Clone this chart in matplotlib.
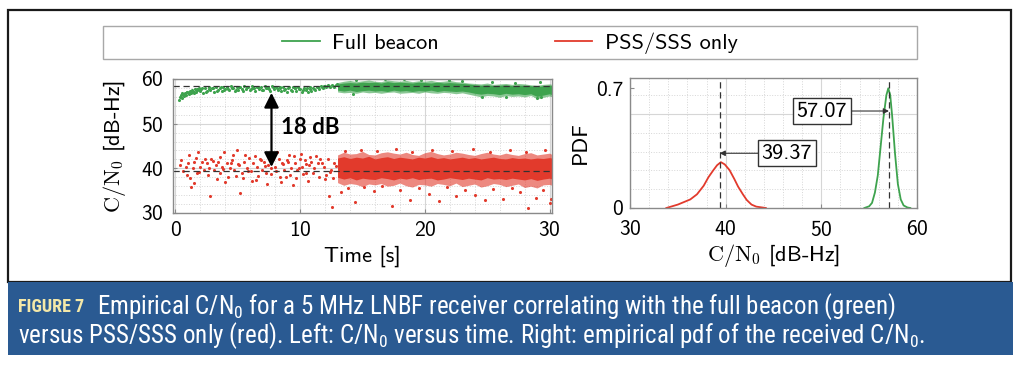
import matplotlib
matplotlib.use("Agg")
import matplotlib.pyplot as plt
from matplotlib.patches import Rectangle
from matplotlib.ticker import MultipleLocator

plt.rcParams['font.family'] = 'cmss10'
plt.rcParams['mathtext.fontset'] = 'cm'
plt.rcParams['axes.unicode_minus'] = False
plt.rcParams['axes.formatter.use_mathtext'] = True

GREEN = '#3ea34e'
RED = '#e23a2c'

# ---- left panel: C/N0 vs time, sparse part (before ~13 s) ----
red_sparse_t = [0.47, 0.64, 0.81, 1.0, 1.2, 1.26, 1.38, 1.5, 1.63, 1.75, 1.8, 2.0, 2.12, 2.25, 2.5,
                2.7, 2.79, 2.86, 3.11, 3.23, 3.43, 3.6, 3.73, 3.93, 4.1, 4.22, 4.35, 4.52, 4.72, 4.96,
                5.09, 5.2, 5.33, 5.5, 5.7, 5.9, 6.07, 6.25, 6.44, 6.57, 6.74, 6.94, 7.06, 7.23, 7.43,
                7.63, 7.8, 7.98, 8.17, 8.37, 8.54, 8.72, 8.91, 9.1, 9.28, 9.4, 9.6, 9.78, 9.95, 10.15,
                10.35, 10.5, 10.7, 10.9, 11.1, 11.4, 11.6, 11.9, 12.1, 12.3, 12.5, 12.57, 12.74,
                0.35, 0.9, 1.1, 1.45, 1.9, 2.35, 2.6, 3.0, 3.3, 3.55, 3.85, 4.0, 4.45, 4.65, 4.85,
                5.0, 5.4, 5.6, 5.8, 6.15, 6.35, 6.65, 6.85, 7.15, 7.35, 7.55, 7.7, 8.05, 8.3, 8.45,
                8.65, 8.85, 9.0, 9.2, 9.5, 9.7, 9.9, 10.05, 10.25, 10.45, 10.6, 10.8, 11.0, 11.25,
                11.5, 11.75, 12.0, 12.2, 12.4, 12.65, 12.85]
red_sparse_v = [41.9, 39.3, 40.4, 41.1, 37.8, 35.9, 40.0, 41.5, 42.4, 38.9, 43.7, 40.4, 41.5, 39.6, 41.1,
                40.0, 33.9, 42.2, 39.6, 40.7, 41.5, 38.9, 40.4, 43.7, 41.1, 38.1, 40.0, 41.9, 39.6, 44.1,
                40.7, 34.4, 38.9, 41.5, 40.0, 42.4, 39.3, 41.1, 37.4, 40.4, 42.2, 39.6, 41.5, 38.9, 40.7,
                40.0, 42.2, 40.4, 43.7, 38.1, 41.1, 39.6, 41.9, 43.0, 40.0, 36.3, 41.1, 39.6, 42.2, 40.4,
                41.9, 38.9, 40.7, 41.5, 40.0, 41.1, 42.2, 40.4, 38.5, 33.9, 39.6, 31.3, 41.1,
                40.8, 38.4, 42.9, 36.8, 39.2, 42.0, 38.6, 41.7, 37.6, 42.6, 39.9, 37.0, 41.2, 43.0, 38.3,
                40.9, 37.9, 42.9, 39.4, 37.1, 42.7, 38.2, 41.8, 40.5, 36.4, 42.4, 38.7, 39.3, 42.0, 36.9,
                40.9, 38.0, 41.4, 38.4, 42.7, 37.8, 40.0, 43.2, 38.7, 41.0, 37.2, 42.5, 39.0, 42.8,
                38.1, 41.3, 37.6, 42.2, 39.2, 37.9, 40.6]

green_sparse_t = [0.30, 0.38, 0.45, 0.52, 0.60, 0.68, 0.75, 0.85, 0.95, 1.05, 1.15, 1.25, 1.35, 1.45,
                  1.55, 1.65, 1.75, 1.85, 1.95, 2.05, 2.2, 2.35, 2.5, 2.65, 2.8, 2.95, 3.1, 3.25, 3.4,
                  3.55, 3.7, 3.85, 4.0, 4.15, 4.3, 4.45, 4.6, 4.75, 4.9, 5.05, 5.2, 5.35, 5.5, 5.65,
                  5.8, 5.95, 6.1, 6.25, 6.4, 6.55, 6.7, 6.85, 7.0, 7.15, 7.3, 7.45, 7.6, 7.75, 7.9,
                  8.05, 8.2, 8.35, 8.5, 8.65, 8.8, 8.95, 9.1, 9.25, 9.4, 9.55, 9.7, 9.85, 10.0, 10.15,
                  10.3, 10.45, 10.6, 10.75, 10.9, 11.05, 11.2, 11.35, 11.5, 11.65, 11.8, 11.95, 12.1,
                  12.25, 12.4, 12.55, 12.7, 12.85,
                  0.42, 0.56, 0.72, 0.9, 1.1, 1.3, 1.5, 1.7, 1.9, 2.12, 2.42, 2.72, 3.02, 3.32, 3.62,
                  3.92, 4.22, 4.52, 4.82, 5.12, 5.42, 5.72, 6.02, 6.32, 6.62, 6.92, 7.22, 7.52, 7.82,
                  8.12, 8.42, 8.72, 9.02, 9.32, 9.62, 9.92, 10.22, 10.52, 10.82, 11.12, 11.42, 11.72,
                  12.02, 12.32, 12.62, 12.92]
green_sparse_v = [55.3, 55.9, 56.4, 55.7, 56.7, 56.2, 56.9, 56.5, 57.2, 56.8, 57.4, 56.9, 57.6, 57.1,
                  57.8, 57.2, 57.5, 58.0, 57.3, 57.7, 56.8, 57.9, 57.4, 58.1, 57.5, 57.9, 57.2, 58.2, 57.6,
                  58.0, 57.4, 58.3, 57.7, 58.1, 57.5, 58.4, 57.9, 57.3, 58.2, 57.6, 58.3, 57.8, 58.5, 57.7,
                  58.1, 57.5, 58.4, 57.9, 57.4, 58.3, 57.7, 58.2, 57.6, 58.4, 57.9, 58.1, 57.3, 58.5, 57.8,
                  58.2, 57.5, 58.0, 57.4, 58.3, 57.8, 57.2, 58.1, 57.6, 58.3, 57.9, 57.4, 58.2, 57.7, 57.2,
                  58.0, 57.5, 57.0, 57.8, 57.3, 57.9, 57.5, 58.2, 57.8, 58.4, 58.0, 58.5, 58.1,
                  58.6, 58.2, 58.7, 58.3, 58.6,
                  56.0, 56.9, 56.4, 57.0, 56.6, 57.3, 56.9, 57.7, 57.6, 58.0, 57.1, 57.8, 57.9, 57.3, 58.2,
                  57.5, 57.8, 58.0, 57.6, 58.1, 57.4, 58.3, 57.8, 58.0, 58.2, 57.5, 58.0, 57.7, 58.2,
                  57.9, 58.3, 57.6, 57.9, 57.3, 58.0, 57.8, 57.6, 57.9, 58.1, 57.7, 58.1, 58.3,
                  58.4, 58.4, 58.5, 58.8]

# ---- dense part (after ~13 s), read as envelopes of the point cloud ----
t_band = [13.0, 13.5, 14.0, 14.5, 15.0, 15.5, 16.0, 16.5, 17.0, 17.5, 18.0, 18.5, 19.0, 19.5, 20.0,
          20.5, 21.0, 21.5, 22.0, 22.5, 23.0, 23.5, 24.0, 24.5, 25.0, 25.5, 26.0, 26.5, 27.0, 27.5,
          28.0, 28.5, 29.0, 29.5, 30.0, 30.2]
red_lo = [38.0, 37.6, 37.9, 37.4, 37.8, 37.6, 37.5, 37.9, 37.7, 37.4, 37.8, 37.6, 37.9, 37.5, 37.7, 37.8,
          37.4, 37.6, 37.9, 37.7, 37.5, 37.8, 37.6, 37.4, 37.9, 37.6, 37.7, 37.5, 37.8, 37.6, 37.4, 37.7,
          37.3, 37.6, 37.8, 37.6]
red_hi = [42.3, 42.6, 42.2, 42.5, 42.3, 42.7, 42.1, 42.4, 42.6, 42.2, 42.5, 42.3, 42.1, 42.5, 42.3, 42.6,
          42.2, 42.4, 42.1, 42.3, 42.5, 42.2, 42.4, 42.1, 42.3, 42.5, 42.2, 42.1, 42.4, 42.2, 42.3, 42.1,
          42.3, 42.2, 42.4, 42.3]
red_halo_lo = [36.8, 36.2, 36.6, 36.4, 35.9, 36.5, 36.3, 36.6, 36.0, 36.2, 36.7, 36.1, 35.8, 36.4, 36.3,
               36.0, 36.6, 36.4, 36.1, 36.7, 35.9, 36.2, 36.5, 35.8, 36.1, 36.6, 36.4, 35.9, 36.2, 36.5,
               35.7, 36.0, 35.6, 36.3, 36.4, 36.2]
red_halo_hi = [43.0, 43.6, 43.2, 43.3, 43.8, 43.1, 43.0, 43.5, 43.7, 43.4, 43.2, 43.6, 43.1, 42.9, 43.5,
               43.8, 43.3, 43.0, 43.2, 43.6, 43.4, 43.1, 42.9, 43.3, 43.6, 43.2, 43.0, 43.4, 43.1, 42.9,
               43.3, 43.5, 43.0, 43.2, 43.4, 43.1]
green_lo = [57.5, 57.3, 57.5, 57.2, 57.4, 57.5, 57.3, 57.4, 57.2, 57.5, 57.3, 57.4, 57.2, 57.4, 57.3, 57.5,
            57.2, 57.4, 57.3, 57.2, 57.3, 57.1, 56.8, 56.6, 56.8, 56.7, 56.5, 56.8, 56.6, 56.7, 56.5, 56.7,
            56.1, 56.4, 56.7, 56.5]
green_hi = [58.9, 59.1, 59.2, 59.1, 59.3, 59.2, 59.3, 59.1, 59.4, 59.2, 59.3, 59.2, 59.1, 59.3, 59.2, 59.1,
            59.3, 59.1, 59.2, 59.1, 59.0, 58.9, 58.7, 58.6, 58.7, 58.5, 58.6, 58.7, 58.5, 58.6, 58.6, 58.5,
            58.3, 58.5, 58.6, 58.5]
green_halo_lo = [57.1, 56.9, 57.0, 56.8, 57.1, 56.9, 57.0, 56.8, 57.0, 57.1, 56.8, 56.9, 57.0, 56.8, 57.1,
                 56.9, 56.8, 57.0, 56.9, 56.7, 56.9, 56.6, 56.3, 56.0, 56.3, 56.2, 55.9, 56.3, 56.1, 56.2,
                 56.0, 56.3, 55.6, 55.9, 56.2, 56.0]
green_halo_hi = [59.2, 59.5, 59.7, 59.4, 59.6, 59.8, 59.5, 59.4, 59.8, 59.6, 59.5, 59.7, 59.4, 59.6, 59.5,
                 59.7, 59.4, 59.5, 59.7, 59.4, 59.3, 59.1, 59.0, 58.9, 59.1, 58.8, 58.9, 59.0, 58.8, 59.0,
                 58.9, 58.7, 58.6, 58.8, 58.9, 58.8]

red_out_t = [13.3, 13.8, 14.4, 15.1, 15.9, 16.6, 17.4, 18.0, 18.8, 19.5, 20.3, 21.1, 21.8, 22.5, 23.2,
             24.0, 24.8, 25.5, 26.3, 27.0, 27.6, 28.3, 28.9, 29.5, 30.0, 30.1,
             13.6, 14.9, 16.2, 17.7, 19.0, 20.6, 22.2, 23.9, 25.2, 26.8, 28.1, 29.6]
red_out_v = [34.6, 35.5, 32.4, 35.8, 34.9, 36.0, 31.6, 35.2, 33.0, 35.6, 34.3, 32.6, 35.9, 33.8, 35.1,
             34.0, 32.8, 35.4, 33.2, 35.7, 34.6, 31.2, 33.4, 35.2, 32.3, 33.1,
             43.8, 44.2, 43.9, 44.4, 43.7, 44.1, 43.8, 44.3, 43.6, 44.0, 43.7, 44.2]
green_out_t = [14.5, 16.8, 18.3, 19.7, 21.9, 23.0, 25.4, 27.2, 29.2, 29.0, 29.3, 14.2, 24.6, 26.5]
green_out_v = [59.8, 59.9, 60.0, 59.7, 59.8, 59.6, 59.4, 59.2, 59.3, 55.8, 56.0, 56.6, 55.9, 56.0]

green_ref = 58.4
red_ref = 39.5

# ---- right panel: empirical pdf ----
red_pdf_x = [33.8, 35.0, 36.3, 37.0, 37.7, 38.2, 38.7, 39.1, 39.5, 39.9, 40.4, 40.9, 41.3, 41.8, 42.2,
             42.7, 43.2, 44.2]
red_pdf_y = [0.0, 0.02, 0.05, 0.08, 0.13, 0.18, 0.22, 0.25, 0.268, 0.255, 0.222, 0.17, 0.125, 0.08,
             0.047, 0.02, 0.008, 0.0]
green_pdf_x = [54.5, 55.0, 55.3, 55.6, 55.9, 56.2, 56.5, 56.8, 57.0, 57.2, 57.4, 57.7, 58.0, 58.3,
               58.6, 59.0, 59.3]
green_pdf_y = [0.0, 0.01, 0.03, 0.09, 0.19, 0.36, 0.53, 0.66, 0.70, 0.66, 0.54, 0.32, 0.14, 0.05,
               0.015, 0.003, 0.0]
green_mean = 57.07
red_mean = 39.37

fig = plt.figure(figsize=(10.24, 3.68), dpi=100)
W, H = 1024, 368


def fx(px):
    return px / W


def fy(py):
    return 1 - py / H


# outer frame and caption bar
fig.add_artist(Rectangle((fx(8), fy(282)), fx(1011) - fx(8), fy(10) - fy(282),
                         transform=fig.transFigure, fill=False, ec='#1a1a1a', lw=1.6))
fig.add_artist(Rectangle((fx(8), fy(355)), fx(1013) - fx(8), fy(282) - fy(355),
                         transform=fig.transFigure, fc='#2a5a92', ec='none'))
# legend frame
fig.add_artist(Rectangle((fx(103), fy(59)), fx(917) - fx(103), fy(26) - fy(59),
                         transform=fig.transFigure, fill=False, ec='#a8a8a8', lw=1.0))


def style(ax):
    for s in ax.spines.values():
        s.set_color('#8a8a8a')
        s.set_linewidth(1.0)
    ax.tick_params(which='both', direction='in', color='#8a8a8a', labelsize=15.5)
    ax.tick_params(which='major', length=3)
    ax.tick_params(which='minor', length=0)
    ax.set_axisbelow(True)


# left axes
ax1 = fig.add_axes([fx(173), fy(213), fx(552) - fx(173), fy(79) - fy(213)])
style(ax1)
ax1.fill_between(t_band, red_halo_lo, red_halo_hi, color=RED, alpha=0.6, lw=0)
ax1.fill_between(t_band, red_lo, red_hi, color=RED, lw=0)
ax1.fill_between(t_band, green_halo_lo, green_halo_hi, color=GREEN, alpha=0.6, lw=0)
ax1.fill_between(t_band, green_lo, green_hi, color=GREEN, lw=0)
ax1.scatter(red_sparse_t, red_sparse_v, s=5, color=RED, lw=0)
ax1.scatter(red_out_t, red_out_v, s=5, color=RED, lw=0)
ax1.scatter(green_sparse_t, green_sparse_v, s=5, color=GREEN, lw=0)
ax1.scatter(green_out_t, green_out_v, s=5, color=GREEN, lw=0)
ax1.axhline(green_ref, color='#333333', ls=(0, (5, 3)), lw=0.9)
ax1.axhline(red_ref, color='#333333', ls=(0, (5, 3)), lw=0.9)
ax1.annotate('', xy=(7.7, 56.9), xytext=(7.7, 40.3),
             arrowprops=dict(arrowstyle='<|-|>', color='black', lw=1.6, mutation_scale=22,
                             shrinkA=0, shrinkB=0))
ax1.text(8.5, 49.2, '18 dB', fontsize=16, fontweight='bold', family='Lato', va='center', ha='left')
ax1.set_xlim(-0.2, 30.2)
ax1.set_ylim(30, 60)
ax1.set_xticks([0, 10, 20, 30])
ax1.set_yticks([30, 40, 50, 60])
ax1.xaxis.set_minor_locator(MultipleLocator(2))
ax1.yaxis.set_minor_locator(MultipleLocator(2))
ax1.grid(which='major', color='#d6d6d6', lw=0.8)
ax1.grid(which='minor', color='#d6d6d6', lw=0.7, ls=':')
ax1.tick_params(axis='x', pad=6)
ax1.tick_params(axis='y', pad=7)
ax1.set_xlabel('Time [s]', fontsize=16, labelpad=4)
ax1.set_ylabel(r'$\mathrm{C/N_0}$ [dB-Hz]', fontsize=16, labelpad=9)

# right axes
ax2 = fig.add_axes([fx(630), fy(208), fx(917) - fx(630), fy(78) - fy(208)])
style(ax2)
for gy in [0.11, 0.22, 0.33, 0.44, 0.66]:
    ax2.axhline(gy, color='#d6d6d6', lw=0.7, ls=':', zorder=0)
ax2.axhline(0.55, color='#d6d6d6', lw=0.8, zorder=0)
lg, = ax2.plot(green_pdf_x, green_pdf_y, color=GREEN, lw=1.3, label='Full beacon')
lr, = ax2.plot(red_pdf_x, red_pdf_y, color=RED, lw=1.3, label='PSS/SSS only')
ax2.axvline(green_mean, color='#333333', ls=(0, (5, 3)), lw=0.9)
ax2.axvline(red_mean, color='#333333', ls=(0, (5, 3)), lw=0.9)
box = dict(boxstyle='square,pad=0.15', fc='white', ec='#333333', lw=1.0)
arr = dict(arrowstyle='-|>', color='#333333', lw=0.8, mutation_scale=8, shrinkA=0, shrinkB=0)
ax2.annotate(f'{green_mean:.2f}', xy=(green_mean, 0.567), xytext=(50.06, 0.567),
             ha='center', va='center', fontsize=16, bbox=box, arrowprops=arr)
ax2.annotate(f'{red_mean:.2f}', xy=(red_mean, 0.32), xytext=(46.4, 0.32),
             ha='center', va='center', fontsize=16, bbox=box, arrowprops=arr)
ax2.set_xlim(30, 60)
ax2.set_ylim(0, 0.76)
ax2.set_xticks([30, 40, 50, 60])
ax2.set_yticks([0, 0.7])
ax2.set_yticklabels(['0', '0.7'])
ax2.xaxis.set_minor_locator(MultipleLocator(2))
ax2.grid(axis='x', which='major', color='#d6d6d6', lw=0.8)
ax2.grid(axis='x', which='minor', color='#d6d6d6', lw=0.7, ls=':')
ax2.tick_params(axis='x', pad=9)
ax2.tick_params(axis='y', pad=5)
ax2.set_xlabel(r'$\mathrm{C/N_0}$ [dB-Hz]', fontsize=16, labelpad=1)
ax2.set_ylabel('PDF', fontsize=16, labelpad=4)

fig.legend(handles=[lg, lr], loc='center', bbox_to_anchor=(fx(510), fy(43)), ncol=2,
           frameon=False, fontsize=16, handlelength=1.7, handletextpad=0.55, columnspacing=5.2)

# caption: condensed face if one is installed, then scaled toward the reference widths
cap_font = ['Roboto Condensed', 'Liberation Sans Narrow', 'DejaVu Sans']
cap_tag = fig.text(fx(18), fy(307), 'FIGURE 7', color='#f4e8a8', fontsize=12, fontweight='bold',
                   family=cap_font, fontstretch='condensed', va='center', ha='left')
cap1 = fig.text(fx(97), fy(307),
                r'Empirical C/N$\mathregular{_0}$ for a 5 MHz LNBF receiver correlating with the full beacon (green)',
                color='white', fontsize=15, family=cap_font, fontstretch='condensed',
                va='center', ha='left')
cap2 = fig.text(fx(18), fy(336),
                r'versus PSS/SSS only (red). Left: C/N$\mathregular{_0}$ versus time. '
                r'Right: empirical pdf of the received C/N$\mathregular{_0}$.',
                color='white', fontsize=15, family=cap_font, fontstretch='condensed',
                va='center', ha='left')
renderer = fig.canvas.get_renderer()
for txt, target, cap in [(cap_tag, 85 - 18, 13), (cap1, 968 - 97, 18), (cap2, 990 - 18, 18)]:
    w = txt.get_window_extent(renderer).width
    txt.set_fontsize(min(txt.get_fontsize() * target / w, cap))

fig.savefig('out.png', dpi=100)
